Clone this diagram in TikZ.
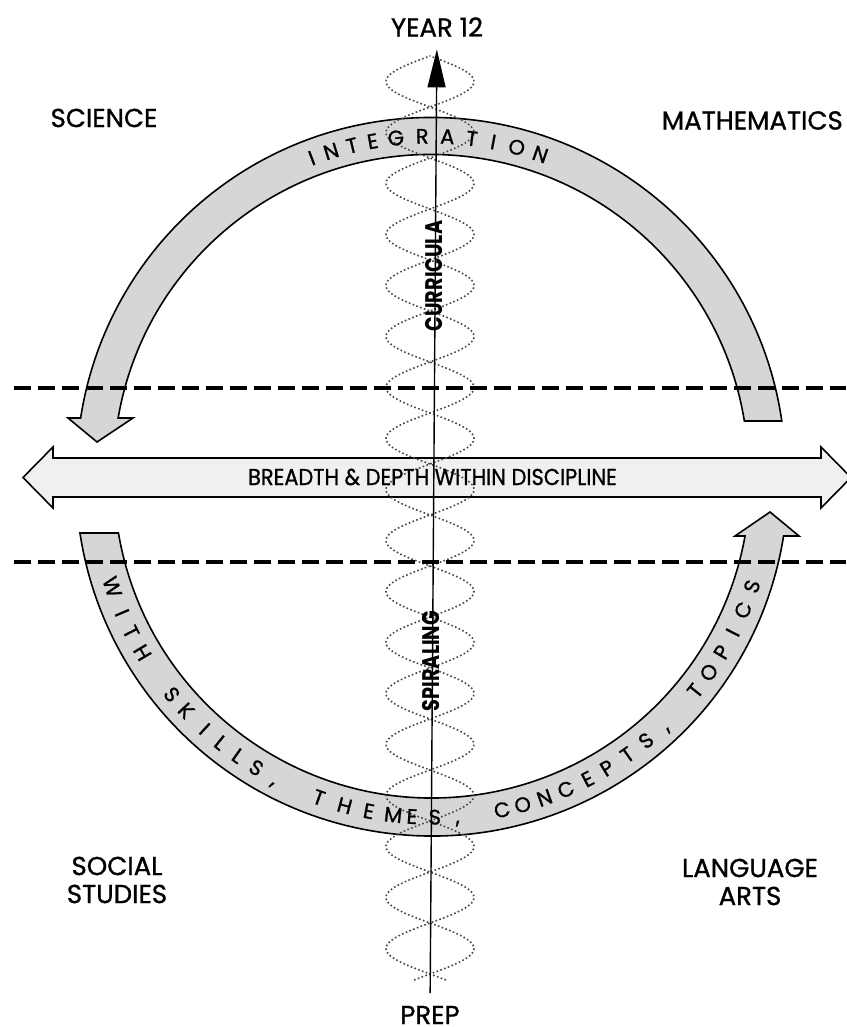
\documentclass[tikz,border=0pt]{standalone}
\usepackage{fontspec}
\setmainfont{Poppins}
\newfontfamily\labelfont{Poppins}[FakeBold=1]
\usetikzlibrary{arrows.meta}
\begin{document}
\begin{tikzpicture}[x=1pt, y=1pt, line width=1.6pt,
  band/.style={draw=black, fill=gray!32, line width=1.6pt, line join=miter},
  guide/.style={line width=3.6pt, dash pattern=on 17pt off 7pt},
  helix/.style={gray!55!black, line width=1.6pt, dash pattern=on 1.6pt off 2.4pt},
  subject/.style={font=\labelfont\fontsize{26}{28}\selectfont, align=center, inner sep=0pt},
  endlabel/.style={font=\labelfont\fontsize{26}{26}\selectfont, inner sep=0pt},
  arcletter/.style={font=\labelfont\fontsize{21}{21}\selectfont, inner sep=0pt, anchor=base},
  axislabel/.style={font=\bfseries\fontsize{24}{24}\selectfont, inner sep=0pt, rotate=90}]
  \useasboundingbox (-431,-552) rectangle (415,475);
  % bands
  \draw[band, fill=gray!12] (-408,-2.5) -- (-378,28) -- (-378,17) -- (390,17) -- (390,28) -- (420,-2.5)
    -- (390,-33) -- (390,-22) -- (-378,-22) -- (-378,-33) -- cycle;
  \begin{scope}[shift={(0,3)}]
    \draw[band] (9.24:317.5) -- (8.27:354.5) arc[start angle=8.27, end angle=171.24, radius=354.5]
      -- (-363,54) -- (-334,30) -- (-298,54) -- (170.2:317.5)
      arc[start angle=170.2, end angle=9.24, radius=317.5] -- cycle;
  \end{scope}
  \begin{scope}[shift={(1,-5)}]
    \draw[band] (188.56:356) -- (189.59:318) arc[start angle=189.59, end angle=349.86, radius=318]
      -- (303,-56) -- (338,-32) -- (367,-56) -- (350.95:356)
      arc[start angle=350.95, end angle=188.56, radius=356] -- cycle;
  \end{scope}
  % spiral
  \draw[helix] plot[domain=-505:419, samples=600, smooth] ({-1+44*sin(3.5294*(\x-368))}, \x);
  \draw[helix] plot[domain=-505:419, samples=600, smooth] ({-1-44*sin(3.5294*(\x-368))}, \x);
  % guide lines
  \draw[guide] (-417,87) -- (415,87);
  \draw[guide] (-417,-87) -- (415,-87);
  % axis
  \node[endlabel] (year) at (6,448) {YEAR 12};
  \node[endlabel] (prep) at (-1,-540) {PREP};
  \draw[line width=1.4pt, shorten <=12pt, shorten >=12pt, -{Triangle[length=38pt, width=18pt]}] (prep) -- (year);
  \node[axislabel] (curricula) at (3,199) {\scalebox{0.8}[1]{CURRICULA}};
  \node[axislabel] (spiraling) at (0,-186) {\scalebox{0.8}[1]{SPIRALING}};
  % subjects
  \node[subject] (science) at (-327,357) {SCIENCE};
  \node[subject, anchor=west] (maths) at (230,354.5) {MATHEMATICS};
  \node[subject] (social) at (-314,-405) {SOCIAL\\STUDIES};
  \node[subject] (language) at (319,-407) {LANGUAGE\\ARTS};
  \node[font=\labelfont\fontsize{23}{23}\selectfont, inner sep=0pt] (breadth) at (1.5,-2)
    {\scalebox{0.91}[1]{BREADTH \& DEPTH WITHIN DISCIPLINE}};
  % text on the arcs
  \begin{scope}[shift={(0,3)}]
    \foreach \a/\c in {110.8/I, 107.3/N, 103.6/T, 100.0/E, 96.0/G, 91.5/R, 87.2/A, 83.0/T, 79.3/I, 75.2/O, 71.0/N}
      \node[arcletter, rotate=\a-90] at (\a:328.5) {\c};
  \end{scope}
  \begin{scope}[shift={(1,-5)}]
    \foreach \a/\c in {198.5/W, 203.2/I, 206.8/T, 210.8/H, 219.5/S, 223.2/K, 227.6/I, 231.2/L, 234.9/L,
        238.6/S, 242.3/{,}, 250.4/T, 255.0/H, 259.2/E, 263.4/M, 266.6/E, 270.5/S, 274.3/{,},
        282.0/C, 285.6/O, 289.5/N, 293.4/C, 297.5/E, 301.3/P, 305.4/T, 309.4/S, 313.4/{,},
        321.3/T, 325.2/O, 329.3/P, 333.1/I, 337.3/C, 341.6/S}
      \node[arcletter, rotate=\a+90] at (\a:344.5) {\c};
  \end{scope}
\end{tikzpicture}
\end{document}
